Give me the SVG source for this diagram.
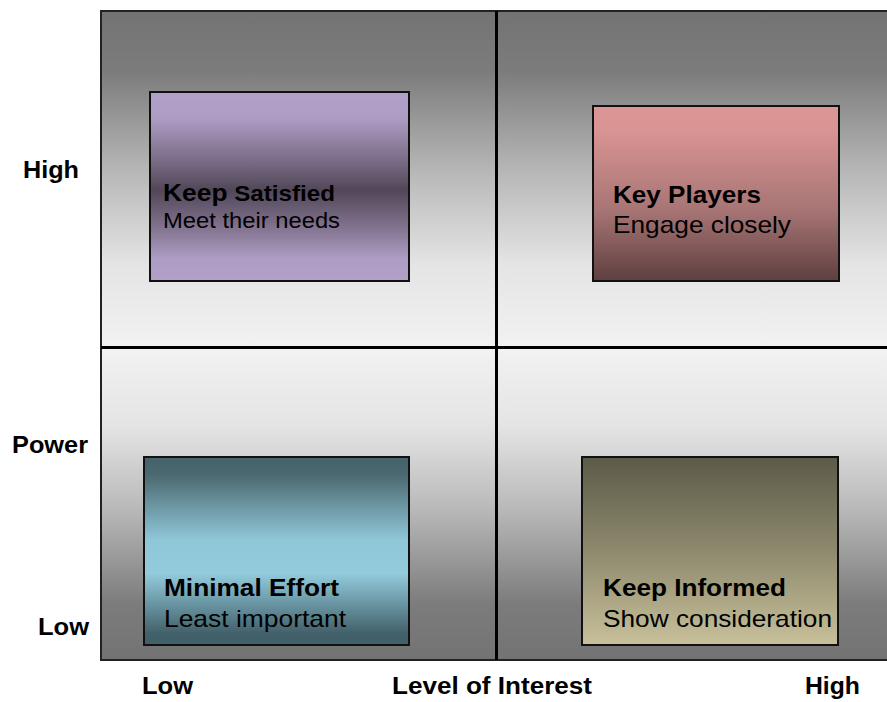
<svg xmlns="http://www.w3.org/2000/svg" width="887" height="702" viewBox="0 0 887 702">
<defs>
<linearGradient id="gTop" x1="0" y1="0" x2="0" y2="1">
<stop offset="0" stop-color="#737373"/>
<stop offset="0.18" stop-color="#7c7c7c"/>
<stop offset="0.48" stop-color="#b8b8b8"/>
<stop offset="0.75" stop-color="#e4e4e4"/>
<stop offset="1" stop-color="#f2f2f2"/>
</linearGradient>
<linearGradient id="gBot" x1="0" y1="0" x2="0" y2="1">
<stop offset="0" stop-color="#f2f2f2"/>
<stop offset="0.25" stop-color="#e4e4e4"/>
<stop offset="0.52" stop-color="#b8b8b8"/>
<stop offset="0.82" stop-color="#7c7c7c"/>
<stop offset="1" stop-color="#737373"/>
</linearGradient>
<linearGradient id="gSat" x1="0" y1="0" x2="0" y2="1">
<stop offset="0" stop-color="#b2a0c8"/>
<stop offset="0.14" stop-color="#ad9cc3"/>
<stop offset="0.35" stop-color="#7d6f8a"/>
<stop offset="0.52" stop-color="#514758"/>
<stop offset="0.7" stop-color="#7d6f8a"/>
<stop offset="0.88" stop-color="#ad9cc3"/>
<stop offset="1" stop-color="#b2a0c8"/>
</linearGradient>
<linearGradient id="gKey" x1="0" y1="0" x2="0" y2="1">
<stop offset="0" stop-color="#dc9696"/>
<stop offset="0.15" stop-color="#d89393"/>
<stop offset="0.6" stop-color="#a77474"/>
<stop offset="1" stop-color="#5e3f3f"/>
</linearGradient>
<linearGradient id="gMin" x1="0" y1="0" x2="0" y2="1">
<stop offset="0" stop-color="#46636b"/>
<stop offset="0.09" stop-color="#4a686f"/>
<stop offset="0.44" stop-color="#8fc7d8"/>
<stop offset="0.62" stop-color="#92cbdc"/>
<stop offset="0.94" stop-color="#42606a"/>
<stop offset="1" stop-color="#42606a"/>
</linearGradient>
<linearGradient id="gInf" x1="0" y1="0" x2="0" y2="1">
<stop offset="0" stop-color="#5c5a48"/>
<stop offset="0.5" stop-color="#8e8a6e"/>
<stop offset="1" stop-color="#c8c09a"/>
</linearGradient>
</defs>
<style>
.box{stroke:#111;stroke-width:2}
.t{font-family:"Liberation Sans",Arial,sans-serif;fill:#000}
.b{font-weight:bold}
.ax{font-family:"Liberation Sans",Arial,sans-serif;font-weight:bold;font-size:23px;fill:#000}
.ln{stroke:#000;stroke-width:3}
</style>
<rect width="887" height="702" fill="#fff"/>
<g id="grid">
<rect x="101" y="11" width="800" height="337" fill="url(#gTop)"/>
<rect x="101" y="348" width="800" height="312" fill="url(#gBot)"/>
<rect x="101" y="11" width="800" height="649" fill="none" stroke="#222" stroke-width="2"/>
</g>
<g id="connectors">
<line class="ln" x1="101" y1="347.5" x2="887" y2="347.5"/>
<line class="ln" x1="496.5" y1="11" x2="496.5" y2="660"/>
</g>
<g id="keep-satisfied">
<rect class="box" x="150" y="92" width="259" height="189" fill="url(#gSat)"/>
<text class="t b" x="163" y="200.5" textLength="172" lengthAdjust="spacingAndGlyphs"><tspan font-size="24">Keep</tspan><tspan font-size="22"> Satisfied</tspan></text>
<text class="t" x="163" y="228" font-size="22" textLength="177" lengthAdjust="spacingAndGlyphs">Meet their needs</text>
</g>
<g id="key-players">
<rect class="box" x="593" y="106" width="246" height="175" fill="url(#gKey)"/>
<text class="t b" x="613" y="203" font-size="24" textLength="148" lengthAdjust="spacingAndGlyphs">Key Players</text>
<text class="t" x="613" y="233" font-size="24" textLength="178" lengthAdjust="spacingAndGlyphs">Engage closely</text>
</g>
<g id="minimal-effort">
<rect class="box" x="144" y="457" width="265" height="188" fill="url(#gMin)"/>
<text class="t b" x="164" y="596" font-size="24" textLength="175" lengthAdjust="spacingAndGlyphs">Minimal Effort</text>
<text class="t" x="164" y="626.5" font-size="24" textLength="182" lengthAdjust="spacingAndGlyphs">Least important</text>
</g>
<g id="keep-informed">
<rect class="box" x="582" y="457" width="256" height="188" fill="url(#gInf)"/>
<text class="t b" x="603" y="596" font-size="24" textLength="183" lengthAdjust="spacingAndGlyphs">Keep Informed</text>
<text class="t" x="603" y="627" font-size="24" textLength="229" lengthAdjust="spacingAndGlyphs">Show consideration</text>
</g>
<g id="axis-labels">
<text class="ax" x="23" y="178" textLength="56" lengthAdjust="spacingAndGlyphs">High</text>
<text class="ax" x="12" y="453" textLength="76" lengthAdjust="spacingAndGlyphs">Power</text>
<text class="ax" x="38" y="635" textLength="51" lengthAdjust="spacingAndGlyphs">Low</text>
<text class="ax" x="142" y="694" textLength="51" lengthAdjust="spacingAndGlyphs">Low</text>
<text class="ax" x="392" y="694" textLength="200" lengthAdjust="spacingAndGlyphs">Level of Interest</text>
<text class="ax" x="805" y="694" textLength="55" lengthAdjust="spacingAndGlyphs">High</text>
</g>
</svg>
